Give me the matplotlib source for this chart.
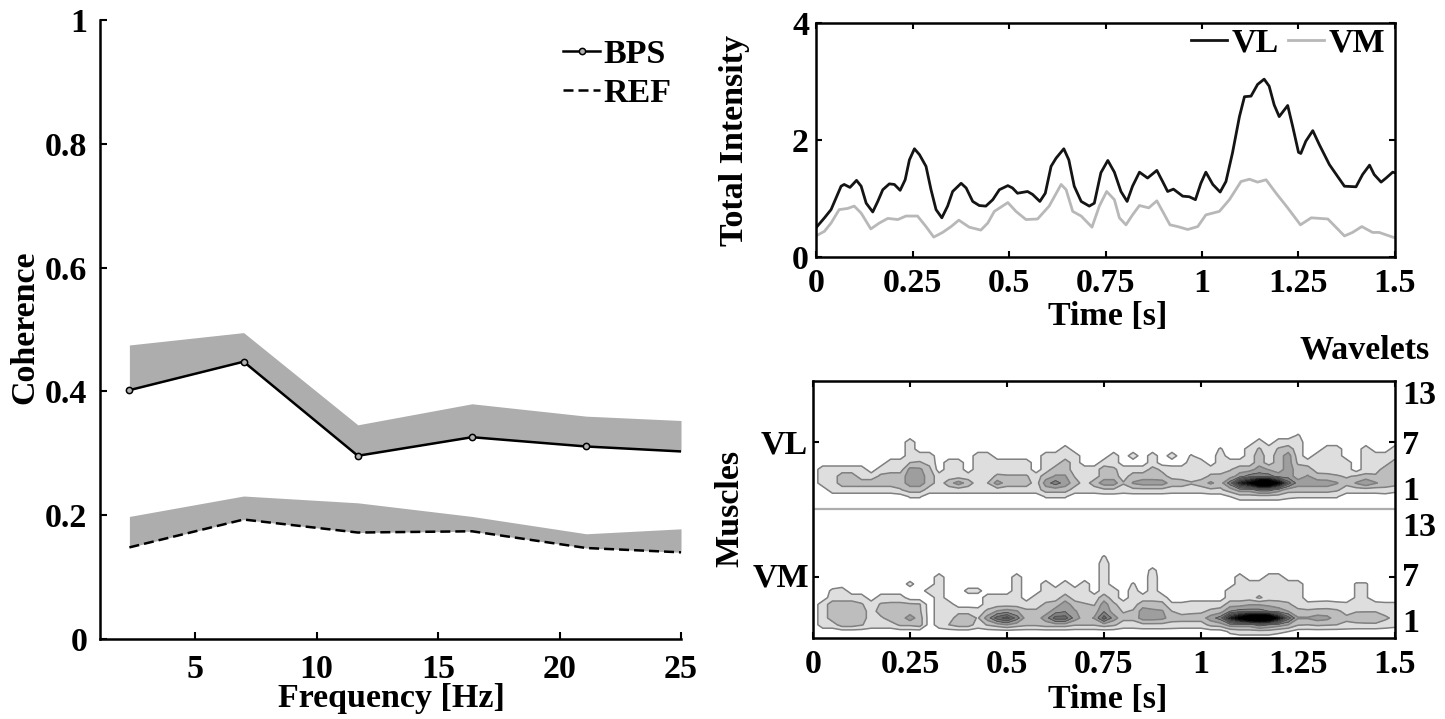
import numpy as np
import matplotlib
matplotlib.use('Agg')
import matplotlib.pyplot as plt

plt.rcParams['font.family'] = ['Liberation Serif', 'DejaVu Serif']
plt.rcParams['font.weight'] = 'bold'
plt.rcParams['font.size'] = 24.5

W, H = 1445, 719

# coherence panel
freq = [2.3, 7.0, 11.7, 16.4, 21.1, 25.0]
bps = [0.402, 0.448, 0.296, 0.326, 0.311, 0.303]
bps_upper = [0.475, 0.495, 0.346, 0.380, 0.360, 0.353]
ref = [0.148, 0.193, 0.172, 0.174, 0.147, 0.140]
ref_upper = [0.198, 0.231, 0.220, 0.198, 0.170, 0.178]

# total intensity panel
vl_t = [0, .022, .039, .052, .065, .073, .088, .105, .117, .130, .147, .160, .173, .190, .203, .218, .231, .242,
        .255, .268, .285, .298, .311, .326, .341, .354, .376, .389, .406, .423, .440, .458, .475, .497, .509, .522,
        .548, .561, .580, .594, .609, .622, .642, .655, .669, .687, .708, .721, .738, .756, .773, .790, .806, .820,
        .838, .859, .883, .898, .911, .926, .950, .967, .983, .997, 1.010, 1.028, 1.047, 1.062, 1.079, 1.097, 1.110,
        1.127, 1.144, 1.161, 1.174, 1.187, 1.200, 1.222, 1.235, 1.250, 1.256, 1.269, 1.287, 1.304, 1.330, 1.351,
        1.369, 1.399, 1.416, 1.434, 1.446, 1.464, 1.477, 1.494, 1.5]
vl_v = [.50, .67, .81, 1.01, 1.21, 1.24, 1.19, 1.31, 1.21, .92, .77, .95, 1.15, 1.25, 1.24, 1.14, 1.32, 1.66,
        1.85, 1.75, 1.55, 1.15, .81, .67, .87, 1.12, 1.26, 1.18, .95, .88, .87, .98, 1.15, 1.22, 1.18, 1.09,
        1.12, 1.07, .95, 1.09, 1.55, 1.69, 1.85, 1.66, 1.21, .95, .87, .92, 1.44, 1.65, 1.45, 1.12, .95, 1.21,
        1.45, 1.35, 1.48, 1.29, 1.12, 1.16, 1.04, 1.03, .98, 1.26, 1.45, 1.24, 1.11, 1.29, 1.78, 2.40, 2.74,
        2.75, 2.95, 3.04, 2.92, 2.60, 2.40, 2.59, 2.23, 1.79, 1.77, 1.98, 2.16, 1.92, 1.58, 1.38,
        1.21, 1.20, 1.41, 1.57, 1.41, 1.28, 1.35, 1.45, 1.44]
vm_t = [0, .022, .039, .060, .082, .099, .117, .142, .164, .186, .212, .233, .263, .285, .305, .328, .350, .370,
        .397, .427, .445, .462, .497, .518, .544, .574, .604, .635, .648, .665, .687, .715, .734, .753, .773, .786,
        .803, .820, .838, .862, .883, .898, .917, .937, .963, .989, 1.010, 1.045, 1.071, 1.101, 1.123, 1.144, 1.166,
        1.192, 1.222, 1.255, 1.283, 1.326, 1.369, 1.390, 1.414, 1.442, 1.459, 1.494, 1.5]
vm_v = [.36, .44, .58, .81, .83, .87, .75, .48, .58, .66, .64, .70, .70, .52, .34, .42, .52, .63,
        .51, .46, .58, .78, .93, .78, .64, .65, .87, 1.24, 1.15, .78, .70, .51, .87, 1.12, .98, .67,
        .55, .72, .88, .84, .96, .78, .55, .52, .47, .52, .72, .78, .98, 1.29, 1.33, 1.28, 1.32,
        1.09, .84, .55, .67, .65, .36, .42, .52, .42, .42, .34, .33]

time_ticks = [0, 0.25, 0.5, 0.75, 1, 1.25, 1.5]
time_labels = ['0', '0.25', '0.5', '0.75', '1', '1.25', '1.5']

# wavelet power, one list per time column (every 0.025 s), rows from wavelet -1 upward
wavelet_rows = [-1, 0, 1, 2, 3, 4, 5, 6, 7, 8, 9, 10]
vl_power = [
    [0], [0, 0, 1, 1, 1], [0, 1, 1, 1, 1], [0, 1, 2, 2, 1], [0, 1, 2, 2, 1], [0, 1, 2, 1, 1],
    [0, 1, 2, 1], [0, 1, 2, 1.7, 1], [0, 1, 2, 2, 1, 1], [0, 1.4, 2, 2, 1, 1],
    [.6, 2, 3, 3, 2.8, 1.5, 1, 1, 1], [.6, 2, 3, 3, 2.7, 1.6, 1], [0, 1, 2, 2, 1.8, 1.2, 1], [0, 1, 1, 1],
    [0, 1, 2, 1, 1, 1], [0, 1, 3, 1, 1, 1], [0, 1, 2, 1], [0, 1, 1, 1, 1, 1, 1], [0, 1, 1.5, 1, 1, 1, 1],
    [0, 1, 3, 1.7, 1, 1], [0, 1, 2, 1.6, 1, 1], [0, 1, 2, 1.6, 1, 1], [0, 1, 2, 1.6, 1, 1], [0, 1, 1, 1],
    [.6, 2, 3, 2, 1, 1, 1], [.6, 2, 4, 2.6, 2, 1, 1], [.6, 2, 3, 2.6, 2, 2, 1, 1], [0, 1, 2, 1.4, 1, 1, 1],
    [0, 1, 1, 1, 1], [0, 1, 2, 1, 1], [0, 1.3, 3, 2, 2, 1], [0, 1.3, 3, 2, 1.7, 1, 1], [0, 1, 1.6, 1, 1],
    [0, 1.2, 2.6, 2, 1, 0, 1], [0, 1.2, 3, 2, 1], [0, 1.2, 3, 2, 1.8, 1, 1], [0, 1.2, 3, 1.8, 1.3],
    [0, 1, 2, 1.2, 1, 0, 1], [0, 1, 2, 1, 1], [0, 1, 1.6, 1, 1, 1, .6], [0, 1, 2, 1, 1, 1],
    [0, 1.3, 2.7, 1.7, 1], [0, 1.3, 2, 1.6, 1.3, 1, 1, .6], [.5, 2, 4, 2, 1.4, 1], [1, 3, 8, 3, 2, 1],
    [1, 3, 10, 4, 2, 1, 1, 1], [1, 4, 14, 4, 3, 2, 2, 1.6, 1], [1, 4, 14, 4, 2.4, 1, 1, 1],
    [1, 3, 10, 3, 2, 2, 2, 1.6, 1], [.7, 2, 5, 3, 3, 3, 3, 2, 1], [.6, 2, 3, 2, 2, 1.3, 1, 1, 1, .6],
    [.6, 2, 3, 2.6, 2, 1], [.6, 2, 3, 1.9, 1, 1, 1], [.6, 2, 3, 1.8, 1, 1, 1, 1], [.6, 1.7, 2.6, 1.6, 1, 1, 1, 1],
    [0, 1, 1.8, 1.4, 1, 1], [0, 1, 2.6, 1.6], [0, 1, 3.4, 1.8, 1, 1, 1, 1], [0, 1, 2.6, 1.7, 1, 1, 1],
    [0, 1.2, 2, 2, 2, 1, 1], [0, .8, 2, 2, 2, 2, 1, 1],
]
vm_power = [
    [0], [0, 1, 1, 1, 1], [0, 1, 2, 2, 2, 1, .7], [0, 2, 2, 2, 2, 1, 1], [0, 2, 2, 2, 2, 1], [0, 1.6, 2, 2, 1.6, 1],
    [0, 1, 1, 1, 1], [0, 1, 1.3, 2, 1.6, 1], [0, 1, 2, 2, 1.7, 1], [0, 1.7, 2, 2, 1.7, 1],
    [0, 1.7, 3, 2, 1.7, 0, 0, .8], [0, 2, 2, 1.7, 1.6], [0, 0, 0, 0, 0, 0, 1], [0, 1, 1, 1, 1, 1, 1, 1, 1],
    [0, 1.5, 1, 1, 1], [0, 2, 2, 1.2], [0, 2, 2, 1.2, 0, 0, .8], [0, 1, 1.4, 1, 0, 0, .8],
    [0, 1.6, 3, 1.7, 1, 1], [0, 2, 5, 2.6, 1, 1], [0, 2.5, 6, 3, 1, 1], [0, 2, 4, 2.6, 1, 1, 1, 1, 1],
    [0, 1.7, 2, 1.7, 1], [0, 1.7, 2, 1.7, 1, 1], [0, 2, 3, 2, 1.7, 1, 1, 1], [0, 2, 5, 3, 2, 1, 1],
    [0, 2, 5, 3.4, 3, 2, 1, 1], [0, 1.6, 3, 2.6, 2, 1, 1], [0, 1.6, 2, 2, 1.6, 1, 1, 1], [0, 1.6, 2.6, 2, 1.4, 1],
    [0, 2, 5, 3.4, 3, 2, 1, 1, 1, 1, 1, .6], [0, 1.7, 3, 2, 1.7, 1, 1], [0, 1, 1.8, 1.4, 1],
    [0, 1, 1.8, 1.6, 1.1, 1, 1, .6], [0, 1.2, 3, 3, 2, 1], [0, 1.2, 3, 2.7, 2, 1, 1, 1, 1, .8],
    [0, 1.2, 2.8, 2.6, 1.8, 1], [0, 1.1, 2, 1.5, .7], [0, 1, 2, 1, .7], [0, 1, 2, 1.2, 1], [0, 1, 2, 1.3, 1],
    [0, 1.8, 3, 1.7, 1], [0, 2, 4, 2, 1], [.7, 3, 8, 3.5, 2, 1, 1], [1, 3, 11, 4, 2, 1, 1, 1, 1],
    [1, 3, 14, 4, 2.4, 1, 1, 1], [1, 4, 15, 4, 2.4, .3, 1, 1], [1, 3.5, 14, 3.5, 2.2, 1, 1, 1, 1],
    [.7, 3, 9, 3, 2, 1, 1, 1, 1], [.5, 2.5, 5, 2.5, 1.7, 1, 1, 1], [0, 1.6, 2.6, 1.8, 1, 1, 1, 1],
    [0, 1.5, 2.6, 1.7, .8], [0, 1.7, 3, 1.8, .9], [0, 1.6, 2.8, 1.8, 1], [0, 1.5, 2, 1.7, .8], [0, 1.3, 1.7, 1.2, .7],
    [0, 1.2, 2.2, 1.4, .8, .6, .6, .6], [0, 1.2, 2.4, 1.4, .8, .6, .6, .6], [0, 1.2, 2.5, 1.4, .8],
    [0, 1, 1.7, 1.1, .7], [0, .8, 1.2, 1, .7],
]
wavelet_levels = [.5, 1.5, 2.5, 3.5, 4.5, 5.5, 6.5, 7.5, 8.5, 9.5, 10.5, 16]
wavelet_grays = ['.87', '.74', '.62', '.5', '.42', '.34', '.25', '.16', '.09', '.04', '0']


def px_axes(fig, left, top, right, bottom):
    return fig.add_axes([left / W, 1 - bottom / H, (right - left) / W, (bottom - top) / H])


def px_text(fig, x, y, s, **kw):
    kw.setdefault('ha', 'center')
    kw.setdefault('va', 'center')
    fig.text(x / W, 1 - y / H, s, **kw)


def power_grid(cols):
    # pad every column with zeros up to the top row, plus empty rows above and below
    n = len(wavelet_rows)
    z = np.array([c + [0] * (n - len(c)) for c in cols], dtype=float).T
    blank = np.zeros((1, z.shape[1]))
    y = np.array([-2] + wavelet_rows + [11], dtype=float)
    return y, np.vstack([blank, z, blank])


fig = plt.figure(figsize=(W / 100, H / 100), dpi=100)

# left: coherence
ax = px_axes(fig, 100, 20, 681, 639)
ax.fill_between(freq, bps, bps_upper, color='.68', lw=0)
ax.fill_between(freq, ref, ref_upper, color='.68', lw=0)
ax.plot(freq[:-1], bps[:-1], 'o', ms=4.5, mfc='.7', mec='k', mew=1.1, zorder=4)
ax.plot(freq, bps, '-', color='k', lw=1.8, zorder=3)
ax.plot(freq, ref, '--', color='k', lw=1.8, dashes=(4, 2))
ax.set_xlim(1.09, 25)
ax.set_ylim(0, 1)
ax.set_xticks([5, 10, 15, 20, 25])
ax.set_yticks([0, 0.2, 0.4, 0.6, 0.8, 1])
ax.set_yticklabels(['0', '0.2', '0.4', '0.6', '0.8', '1'])
ax.spines[['top', 'right']].set_visible(False)
ax.spines[['left', 'bottom']].set_linewidth(1.8)
ax.tick_params(direction='in', length=5, width=1.5, pad=9)
ax.tick_params(axis='x', pad=11)
legend_marker = ax.plot([], [], '-o', color='k', ms=4.5, mfc='.7', mec='k', mew=1.1, lw=1.8)[0]
legend_dash = ax.plot([], [], '--', color='k', lw=1.8, dashes=(4, 2))[0]
ax.legend([legend_marker, legend_dash], ['BPS', 'REF'], frameon=False, loc='upper right',
          bbox_to_anchor=(0.984, 0.97), handlelength=1.1, handletextpad=0.1, labelspacing=0.25, borderpad=0,
          borderaxespad=0)

# top right: total intensity
ax = px_axes(fig, 816, 23, 1395, 257)
ax.plot(vm_t, vm_v, color='.72', lw=2)
ax.plot(vl_t, vl_v, color='.08', lw=2)
ax.set_xlim(0, 1.5)
ax.set_ylim(0, 4)
ax.set_xticks(time_ticks)
ax.set_xticklabels(time_labels)
ax.set_yticks([0, 2, 4])
ax.tick_params(direction='in', length=4, width=1.5, top=True, right=True, pad=5)
ax.tick_params(axis='x', pad=8)
for s in ax.spines.values():
    s.set_linewidth(1.8)
h1 = ax.plot([], [], color='.08', lw=2)[0]
h2 = ax.plot([], [], color='.72', lw=2)[0]
ax.legend([h1, h2], ['VL', 'VM'], frameon=False, loc='upper right', ncol=2, bbox_to_anchor=(0.984, 0.979),
          handlelength=1.05, handletextpad=0.15, columnspacing=0.27, borderpad=0, borderaxespad=0)

# bottom right: wavelet maps, VL stacked above VM on one axis
panel_shift = 19.85
ax = px_axes(fig, 813, 381, 1395, 638)
t_grid = np.arange(len(vl_power)) * 0.025
for cols, shift in ((vl_power, panel_shift), (vm_power, 0)):
    y, z = power_grid(cols)
    ax.contourf(t_grid, y + shift, z, levels=wavelet_levels, colors=wavelet_grays)
    ax.contour(t_grid, y + shift, z, levels=wavelet_levels[:3], colors='.5', linewidths=1.1)
    ax.contour(t_grid, y + shift, z, levels=wavelet_levels[3:6], colors='.3', linewidths=0.6)
ax.axhline(17.03, color='.68', lw=1.6)
ax.set_xlim(0, 1.5)
ax.set_ylim(-1.94, 35.85)
ax.set_xticks(time_ticks)
ax.set_xticklabels(time_labels)
ax.set_yticks([7.03, 26.9])
ax.set_yticklabels([])
ax.tick_params(direction='in', length=4, width=1.5, top=True, right=True, pad=8)
for s in ax.spines.values():
    s.set_linewidth(1.8)

for label, py in (('13', 395), ('7', 445), ('1', 492), ('13', 528), ('7', 577), ('1', 623)):
    px_text(fig, 1402, py, label, ha='left')
px_text(fig, 784, 445, 'VL')
px_text(fig, 781, 578, 'VM')

px_text(fig, 25, 327, 'Coherence', rotation=90)
px_text(fig, 391, 699, 'Frequency [Hz]')
px_text(fig, 735, 140, 'Total Intensity', rotation=90)
px_text(fig, 1108, 316, 'Time [s]')
px_text(fig, 1108, 699, 'Time [s]')
px_text(fig, 1365, 350, 'Wavelets')
px_text(fig, 730, 508, 'Muscles', rotation=90)

fig.savefig('out.png', dpi=100)
